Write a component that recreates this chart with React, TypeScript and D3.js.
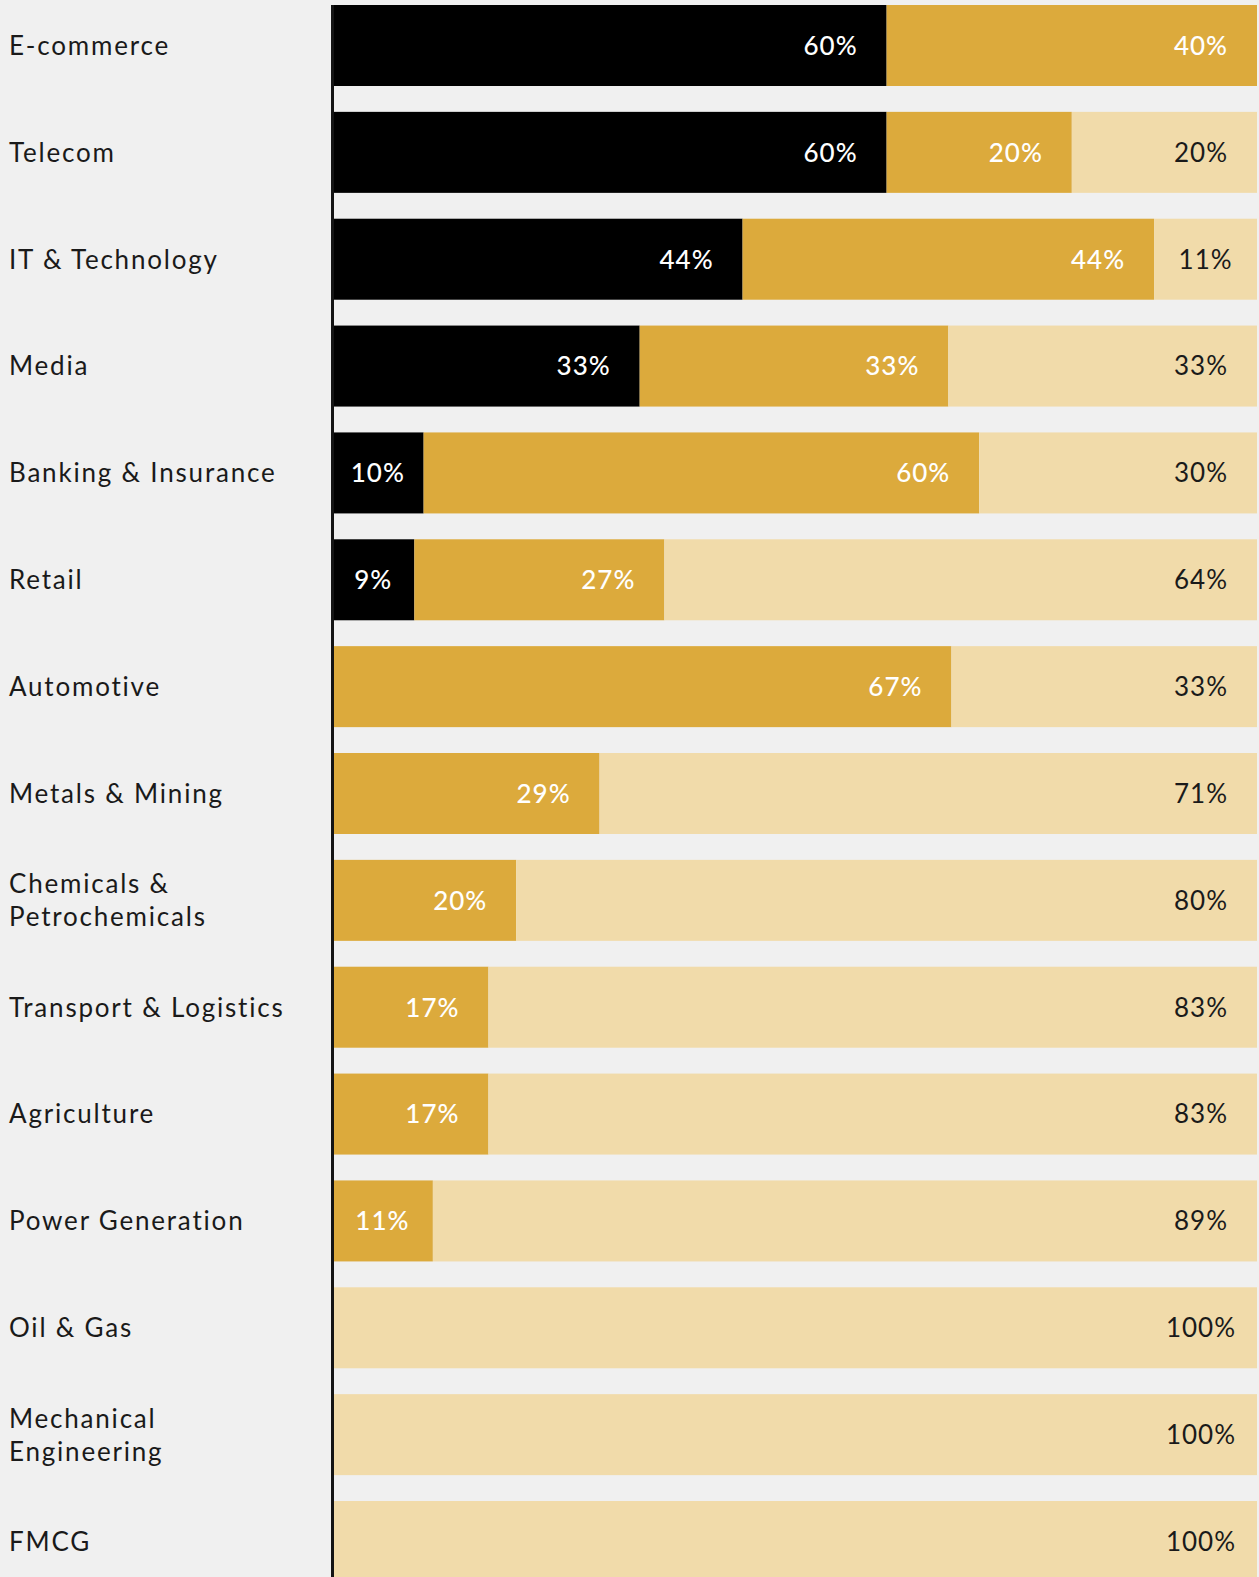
import React from "react";
import * as d3 from "d3";

const categories: string[][] = [
  ["E-commerce"],
  ["Telecom"],
  ["IT & Technology"],
  ["Media"],
  ["Banking & Insurance"],
  ["Retail"],
  ["Automotive"],
  ["Metals & Mining"],
  ["Chemicals &", "Petrochemicals"],
  ["Transport & Logistics"],
  ["Agriculture"],
  ["Power Generation"],
  ["Oil & Gas"],
  ["Mechanical", "Engineering"],
  ["FMCG"],
];

// share of each segment (%)
const blackValues = [60, 60, 44, 33, 10, 9, 0, 0, 0, 0, 0, 0, 0, 0, 0];
const goldValues = [40, 20, 44, 33, 60, 27, 67, 29, 20, 17, 17, 11, 0, 0, 0];
const lightValues = [0, 20, 11, 33, 30, 64, 33, 71, 80, 83, 83, 89, 100, 100, 100];

const series = [
  { key: "black", values: blackValues, fill: "#000000", text: "#ffffff" },
  { key: "gold", values: goldValues, fill: "#dcaa3c", text: "#ffffff" },
  { key: "light", values: lightValues, fill: "#f1dbaa", text: "#1a1a1a" },
];

const W = 1259;
const H = 1590;
const FONT = "Lato, 'Noto Sans', sans-serif";
const FS = 26;

export default function App() {
  const y = d3
    .scaleBand<number>()
    .domain(categories.map((_, i) => i))
    .range([5, 1582])
    .paddingInner(0.242)
    .paddingOuter(0);
  const x = d3.scaleLinear().domain([0, 1]).range([331, 1257]);

  const rows = categories.map((cat, i) => {
    const total = series.reduce((s, se) => s + se.values[i], 0);
    let acc = 0;
    const segs = series
      .map((se) => {
        const v = se.values[i];
        const start = acc / total;
        acc += v;
        const end = acc / total;
        return { ...se, v, start, end };
      })
      .filter((s) => s.v > 0);
    return { cat, i, segs };
  });

  const bandTop0 = y(0)!;

  return (
    <svg
      width={W}
      height={H}
      style={{ position: "absolute", left: 0, top: 0, display: "block" }}
    >
      <rect x={0} y={0} width={W} height={H} fill="#f0f0f0" />
      {rows.map((r) => {
        const top = y(r.i)!;
        const bw = y.bandwidth();
        const cy = top + bw / 2;
        const lh = 33;
        const n = r.cat.length;
        return (
          <g key={r.i}>
            {r.segs.map((s) => {
              const x0 = s.key === "black" ? x(s.start) : Math.max(x(s.start), 334);
              const x1 = x(s.end);
              const lx = Math.max((Math.max(x(s.start), 332) + x1) / 2, x1 - 56);
              return (
                <g key={s.key}>
                  <rect x={x0} y={top} width={x1 - x0} height={bw} fill={s.fill} />
                  <text
                    x={lx}
                    y={cy + FS * 0.36}
                    textAnchor="middle"
                    fill={s.text}
                    fontFamily={FONT}
                    fontSize={FS}
                    fontWeight={s.key === "light" ? 400 : 500}
                    letterSpacing={1}
                  >
                    {Math.round(s.v)}%
                  </text>
                </g>
              );
            })}
            {r.cat.map((line, k) => (
              <text
                key={k}
                x={9}
                y={cy + FS * 0.36 + (k - (n - 1) / 2) * lh}
                fill="#1a1a1a"
                fontFamily={FONT}
                fontSize={FS}
                letterSpacing={1.8}
              >
                {line}
              </text>
            ))}
          </g>
        );
      })}
      <line x1={332.5} x2={332.5} y1={bandTop0} y2={H} stroke="#141414" strokeWidth={3} />
    </svg>
  );
}
